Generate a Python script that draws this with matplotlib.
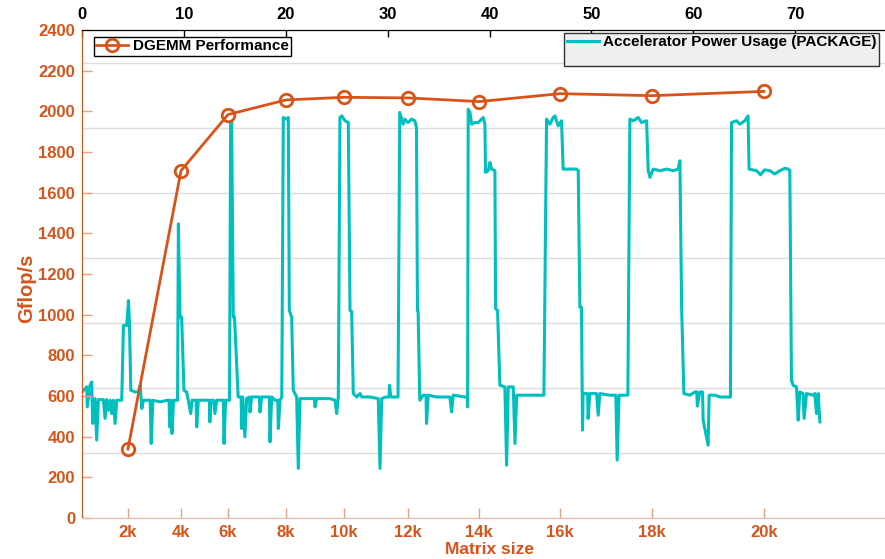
import matplotlib
matplotlib.use("Agg")
import matplotlib.pyplot as plt
from matplotlib.lines import Line2D

# DGEMM runs: time (s, top axis) at which each matrix size ran
matrix_labels = ["2k", "4k", "6k", "8k", "10k", "12k", "14k", "16k", "18k", "20k"]
run_times = [4.51, 9.72, 14.33, 20.02, 25.71, 31.99, 38.99, 46.94, 55.94, 66.93]
dgemm_gflops = [339, 1708, 1984, 2056, 2069, 2066, 2048, 2087, 2077, 2098]

# accelerator package power trace (time s, watts)
power_t = [
    0.00, 0.46, 0.52, 0.79, 0.95, 1.05, 1.28, 1.44, 1.61, 2.10, 2.26, 2.43, 2.59, 2.76,
    2.92, 3.08, 3.25, 3.41, 3.90, 4.07, 4.40, 4.56, 4.66, 4.79, 5.22, 5.54, 5.71, 5.87,
    6.04, 6.69, 6.79, 6.96, 7.68, 8.40, 8.55, 8.60, 8.73, 8.83, 8.99, 9.38, 9.46, 9.62,
    9.78, 10.01, 10.27, 10.43, 10.67, 10.80, 10.99, 11.20, 11.26, 11.42, 12.50, 12.55,
    12.64, 12.91, 13.05, 13.22, 13.87, 13.94, 14.10, 14.48, 14.59, 14.69, 14.85, 14.97,
    15.33, 15.62, 15.67, 15.77, 15.99, 16.16, 16.44, 16.49, 16.65, 17.42, 17.47, 17.64,
    18.40, 18.45, 18.62, 18.94, 19.22, 19.27, 19.44, 19.61, 19.76, 20.09, 20.25, 20.35,
    20.58, 20.74, 21.07, 21.23, 21.40, 21.89, 22.82, 22.87, 23.04, 24.34, 24.83, 25.00,
    25.16, 25.32, 25.49, 25.82, 26.14, 26.31, 26.47, 26.63, 26.97, 27.29, 27.46, 28.28,
    29.08, 29.25, 29.42, 29.84, 30.14, 30.19, 30.31,
    31.02, 31.19, 31.52, 31.68, 32.01, 32.34, 32.67, 32.83, 32.93, 32.99, 33.16, 33.49,
    33.77, 33.82, 33.98, 34.80, 36.11, 36.28, 36.44, 37.59, 37.80, 37.85, 37.91, 38.08,
    38.25, 38.57, 38.90, 39.38, 39.55, 39.61, 39.87, 40.04, 40.20, 40.53, 40.60, 40.79,
    41.02, 41.51, 41.68, 41.84, 42.33, 42.50, 42.67, 43.47, 44.95, 45.34,
    45.60, 45.92, 46.25, 46.42, 46.74, 47.07, 47.23, 47.89, 48.55, 48.71, 48.87, 49.03,
    49.13, 49.19, 49.46, 49.63, 49.68, 49.85, 50.51, 50.67, 50.83, 51.81, 52.40, 52.53,
    52.72, 53.58, 53.78, 54.10, 54.60, 54.93, 55.42, 55.58, 55.75, 56.07, 56.73, 57.38,
    58.03, 58.52, 58.69, 58.86, 59.08, 59.67, 60.16, 60.35, 60.40,
    60.65, 60.91, 60.97, 61.46, 61.56, 62.12, 62.62, 63.65, 63.76, 64.25, 64.57, 65.07,
    65.38, 65.48, 66.21, 66.60, 67.00, 67.52, 68.00, 68.50, 69.00, 69.31, 69.48, 69.64,
    69.80, 70.14, 70.30, 70.46, 70.78, 70.88, 71.12, 71.77, 71.94, 72.10, 72.26, 72.43,
]
power_w = [
    77.5, 80.6, 68.3, 81.6, 83.6, 58.1, 73.4, 47.9, 72.8, 72.8, 61.2, 72.8, 66.3, 72.4,
    64.2, 72.4, 58.1, 72.4, 72.4, 118.4, 118.4, 133.7, 120.0, 78.5, 77.5, 77.5, 81.6, 67.3,
    72.4, 72.4, 45.8, 72.4, 71.4, 72.4, 72.4, 56.0, 72.4, 52.0, 72.4, 72.4, 180.8, 123.5,
    123.5, 78.5, 77.5, 72.4, 64.2, 72.4, 72.4, 72.4, 56.0, 72.4, 72.4, 59.1,
    72.4, 72.4, 64.2, 72.4, 72.4, 45.8, 72.4, 72.4, 243.6, 243.1, 123.5, 123.5,
    74.4, 74.4, 55.0, 74.4, 49.9, 73.4, 74.4, 65.2, 74.4, 74.4, 65.2, 74.4,
    74.4, 46.8, 74.4, 72.4, 72.4, 55.0, 72.4, 74.4, 246.2, 245.2, 246.2, 127.6,
    123.5, 78.5, 74.4, 30.5, 73.4, 73.4, 73.4, 68.3, 73.4, 73.4, 72.4, 64.2,
    74.4, 246.2, 247.2, 244.2, 243.1, 127.6, 127.0, 76.5, 74.4, 76.5, 74.4, 74.4,
    73.4, 30.5, 73.4, 74.4, 74.4, 81.6, 74.4,
    74.4, 249.3, 242.1, 245.2, 243.1, 245.2, 244.2, 240.1, 127.6, 127.6, 72.4, 75.5,
    75.5, 58.1, 75.5, 74.4, 74.4, 65.2, 75.5, 74.4, 74.4, 68.3, 251.3, 249.3,
    242.1, 243.1, 243.1, 246.2, 242.1, 212.5, 213.5, 218.6, 214.5, 213.5, 128.7, 127.6,
    81.6, 80.6, 32.5, 80.6, 80.6, 45.8, 75.5, 75.5, 75.5, 75.5,
    245.2, 242.1, 246.2, 247.2, 241.1, 244.2, 214.5, 214.5, 214.5, 213.5, 129.6, 129.6,
    54.0, 76.5, 76.5, 76.5, 61.2, 76.5, 76.5, 63.2, 76.5, 75.5, 75.5, 35.6,
    75.5, 75.5, 245.2, 244.2, 246.2, 243.1, 244.2, 213.5, 209.4, 214.5, 213.5, 214.5,
    213.5, 214.5, 219.6, 129.6, 76.5, 75.5, 77.5, 77.5, 68.8,
    77.5, 77.5, 60.1, 44.8, 75.5, 75.5, 74.4, 74.4, 243.1, 244.2, 242.1, 244.2,
    247.2, 214.5, 213.5, 211.0, 214.0, 213.5, 211.5, 213.5, 215.0, 214.5, 213.5, 84.7,
    81.6, 80.6, 60.1, 77.5, 76.5, 61.2, 76.5, 75.5, 76.5, 64.2, 76.5, 59.1,
]

top_ticks = [0, 10, 20, 30, 40, 50, 60, 70]
gflops_ticks = list(range(0, 2401, 200))
power_ticks = list(range(0, 281, 40))

ORANGE = "#D95319"
CYAN = "#00BFBF"
TICK_ORANGE = "#E6A183"

plt.rcParams["font.family"] = ["Liberation Sans", "DejaVu Sans"]
plt.rcParams["font.weight"] = "bold"
plt.rcParams["axes.labelweight"] = "bold"

fig = plt.figure(figsize=(8.85, 5.59), dpi=100)
# axes runs a bit past the right edge of the canvas (right axis is cut off)
ax = fig.add_axes([82 / 885, 41 / 559, 815 / 885, 488 / 559])
ax2 = ax.twinx()
ax.set_zorder(ax2.get_zorder() + 1)
ax.patch.set_visible(False)

# power trace on the (hidden) right axis
power_line, = ax2.plot(power_t, power_w, color=CYAN, lw=2.2,
                       label="Accelerator Power Usage (PACKAGE)")
ax2.set_ylim(0, 300)
ax2.set_yticks(power_ticks)
ax2.yaxis.grid(True, color="#dddddd", lw=1)
ax2.tick_params(axis="y", right=False, labelright=False)
for s in ax2.spines.values():
    s.set_visible(False)

# DGEMM performance on the left axis
dgemm_line, = ax.plot(run_times, dgemm_gflops, color=ORANGE, lw=2, marker="o",
                      mfc="none", ms=9, mew=2, label="DGEMM Performance")
ax.set_xlim(0, 80)
ax.set_ylim(0, 2400)
ax.set_xticks(run_times, matrix_labels)
ax.set_yticks(gflops_ticks)
ax.tick_params(axis="both", direction="in", length=7, width=1, color=TICK_ORANGE,
               labelcolor=ORANGE, labelsize=12, pad=5)
for lab in ax.get_xticklabels() + ax.get_yticklabels():
    lab.set_fontweight("bold")
ax.spines["left"].set_color(ORANGE)
ax.spines["bottom"].set_color("#EDB8A2")
ax.spines["right"].set_visible(False)
ax.spines["top"].set_color("black")

top = ax.secondary_xaxis("top")
top.set_xticks(top_ticks)
top.tick_params(direction="in", length=5, width=1, colors="black", labelsize=12, pad=6)
for lab in top.get_xticklabels():
    lab.set_fontweight("bold")
top.spines["top"].set_color("black")

ax.set_ylabel("Gflop/s", color=ORANGE, fontsize=14.5, fontweight="bold")
ax.yaxis.set_label_coords(-0.056, 0.471)
ax.set_xlabel("Matrix size", color=ORANGE, fontsize=12.5, fontweight="bold")
ax.xaxis.set_label_coords(0.5, -0.049)

leg1 = ax.legend(handles=[dgemm_line], loc="upper left",
                 bbox_to_anchor=(94 / 885, 1 - 37 / 559), bbox_transform=fig.transFigure,
                 borderaxespad=0, fancybox=False, edgecolor="black", framealpha=1,
                 fontsize=11, borderpad=0.15, handlelength=2.1, handletextpad=0.3)
leg1.get_frame().set_linewidth(1)
ax.add_artist(leg1)

blank = Line2D([], [], color="none", label=" ")
leg2 = ax.legend(handles=[power_line, blank], loc="upper right",
                 bbox_to_anchor=(879 / 885, 1 - 33 / 559), bbox_transform=fig.transFigure,
                 borderaxespad=0, fancybox=False, edgecolor="#333333", facecolor="#EFEFEF",
                 framealpha=1, fontsize=11, borderpad=0.15, labelspacing=0.05,
                 handlelength=2.1, handletextpad=0.3)
leg2.get_frame().set_linewidth(1)

fig.savefig("out.png", dpi=100)
